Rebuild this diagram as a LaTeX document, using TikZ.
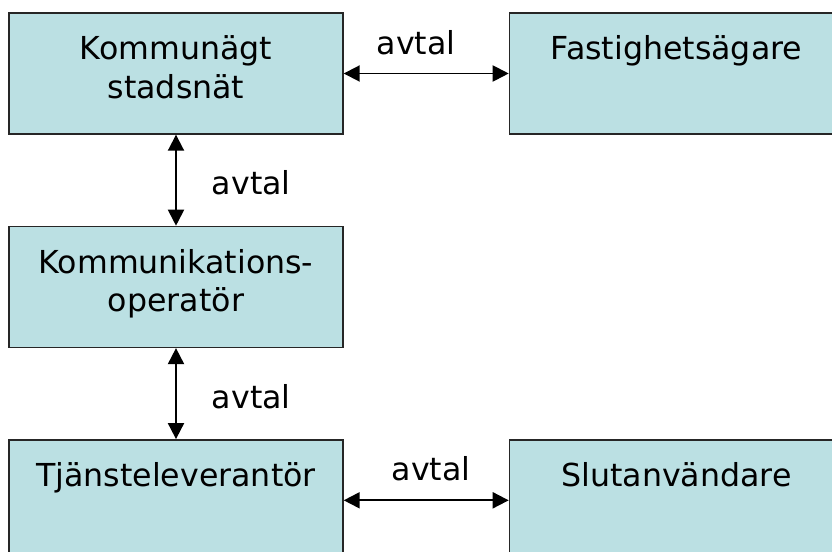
\documentclass[tikz,border=0pt]{standalone}
\usepackage{fontspec}
\setmainfont{DejaVu Sans}
\usetikzlibrary{positioning,arrows.meta}
\definecolor{boxblue}{RGB}{187,224,227}

\begin{document}
\begin{tikzpicture}[>={Triangle[length=0.32cm,width=0.32cm]},
  font=\fontsize{18}{22}\selectfont,
  aktor/.style={draw=black!85,line width=0.8pt,fill=boxblue,minimum width=6.68cm,minimum height=2.42cm,inner sep=0pt},
  rubrik/.style={label={[anchor=north,yshift=-0.46cm,inner sep=0pt,align=center]north:{#1}}},
  pil/.style={<->,line width=1.1pt},
  node distance=1.82cm and 3.3cm]
  \useasboundingbox (0,0) rectangle (16.64,-11.04);
  \clip (0,0) rectangle (16.64,-11.04);
  % aktorer
  \node[aktor,rubrik={Kommunägt\\stadsnät}] (stadsnat) at (3.52,-1.47) {};
  \node[aktor,rubrik=Fastighetsägare,right=of stadsnat] (fastighet) {};
  \node[aktor,rubrik={Kommunikations-\\operatör},below=of stadsnat] (operator) {};
  \node[aktor,rubrik=Tjänsteleverantör,below=of operator] (leverantor) {};
  \node[aktor,rubrik=Slutanvändare,right=of leverantor] (slutanv) {};
  % avtal
  \draw[pil] (stadsnat) -- (fastighet) node[midway,above=0.36cm,inner sep=0pt,xshift=-0.2cm]{avtal};
  \draw[pil] (stadsnat) -- (operator) node[midway,right=0.7cm,inner sep=0pt,yshift=-0.06cm]{avtal};
  \draw[pil] (operator) -- (leverantor) node[midway,right=0.7cm,inner sep=0pt,yshift=-0.06cm]{avtal};
  \draw[pil] (leverantor) -- (slutanv) node[midway,above=0.36cm,inner sep=0pt,xshift=0.1cm]{avtal};
\end{tikzpicture}
\end{document}
